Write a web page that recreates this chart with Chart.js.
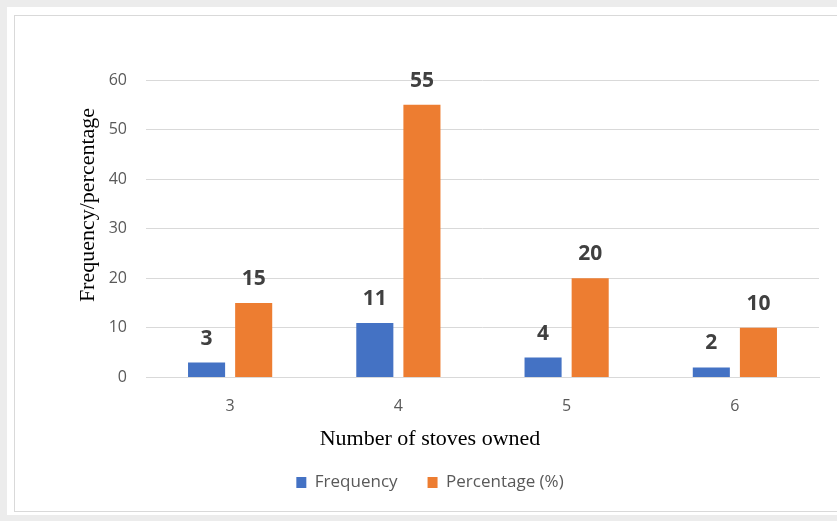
<!DOCTYPE html>
<html>
<head>
<meta charset="utf-8">
<script src="https://cdn.jsdelivr.net/npm/chart.js@4/dist/chart.umd.min.js"></script>
<style>
    html, body { margin: 0; padding: 0; background: #ececec; overflow: hidden; }
    #panel { position: absolute; left: 7px; top: 7px; width: 840px; height: 508px; background: #fff; }
    #frame { position: absolute; left: 14px; top: 15px; width: 840px; height: 497px; border: 1px solid #d9d9d9; box-sizing: border-box; }
    #wrap { position: absolute; left: 15px; top: 15px; width: 822px; height: 486px; }
</style>
</head>
<body>
<div id="panel"></div>
<div id="frame"></div>
<div id="wrap"><canvas id="stove-chart"></canvas></div>
<script>
    var categories = ["3", "4", "5", "6"];
    var frequency = [3, 11, 4, 2];
    var percentage = [15, 55, 20, 10];
    var yTicks = [0, 10, 20, 30, 40, 50, 60];

    var barLabels = {
        id: 'barLabels',
        afterDatasetsDraw: function(chart) {
            var ctx = chart.ctx;
            ctx.save();
            ctx.font = 'bold 21px "Open Sans"';
            ctx.fillStyle = '#404040';
            ctx.textAlign = 'center';
            ctx.textBaseline = 'alphabetic';
            chart.data.datasets.forEach(function(ds, i) {
                chart.getDatasetMeta(i).data.forEach(function(bar, j) {
                    ctx.fillText(ds.data[j], bar.x, bar.y - 18);
                });
            });
            ctx.restore();
        }
    };

    var yTitle = {
        id: 'yTitle',
        afterDraw: function(chart) {
            var ctx = chart.ctx;
            var a = chart.chartArea;
            ctx.save();
            ctx.translate(a.left - 58, a.top + 125);
            ctx.rotate(-Math.PI / 2);
            ctx.font = '22px "Liberation Serif"';
            ctx.fillStyle = '#000';
            ctx.textAlign = 'center';
            ctx.textBaseline = 'middle';
            ctx.fillText('Frequency/percentage', 0, 0);
            ctx.restore();
        }
    };

    var ctx = document.getElementById("stove-chart").getContext('2d');
    var myChart = new Chart(ctx, {
        type: 'bar',
        data: {
            labels: categories,
            datasets: [{
                label: 'Frequency',
                data: frequency,
                backgroundColor: '#4472c4',
                categoryPercentage: 0.56,
                barPercentage: 0.787
            }, {
                label: 'Percentage (%)',
                data: percentage,
                backgroundColor: '#ed7d31',
                categoryPercentage: 0.56,
                barPercentage: 0.787
            }]
        },
        plugins: [barLabels, yTitle],
        options: {
            responsive: true,
            maintainAspectRatio: false,
            animation: false,
            layout: { padding: { top: 65, left: 26, right: 18, bottom: 0 } },
            scales: {
                x: {
                    grid: { display: false },
                    border: { color: '#d9d9d9' },
                    ticks: { color: '#595959', font: { family: 'Open Sans', size: 16 }, padding: 11 }
                },
                y: {
                    min: yTicks[0],
                    max: yTicks[yTicks.length - 1],
                    afterFit: function(scale) { scale.width = 105; },
                    afterBuildTicks: function(scale) {
                        scale.ticks = yTicks.map(function(v) { return { value: v }; });
                    },
                    grid: { color: '#d9d9d9', drawTicks: false },
                    border: { display: false },
                    ticks: { color: '#595959', font: { family: 'Open Sans', size: 16 }, padding: 19 }
                }
            },
            plugins: {
                title: {
                    display: true,
                    position: 'bottom',
                    text: 'Number of stoves owned',
                    weight: 500,
                    color: '#000',
                    font: { family: 'Liberation Serif', size: 22, weight: 'normal' },
                    padding: { top: -1, bottom: -8 }
                },
                legend: {
                    position: 'bottom',
                    labels: {
                        color: '#595959',
                        font: { family: 'Open Sans', size: 17 },
                        boxWidth: 10,
                        boxHeight: 11,
                        padding: 30
                    }
                },
                tooltip: { enabled: false }
            }
        }
    });
</script>
</body>
</html>
